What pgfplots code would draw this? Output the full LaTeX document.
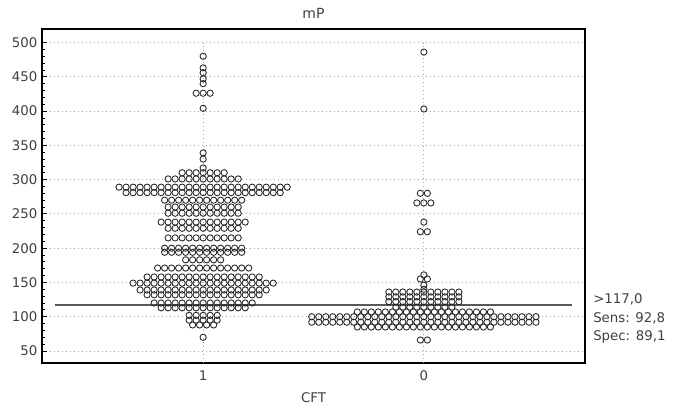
\documentclass[border=0pt]{standalone}
\usepackage{fontspec}
\setmainfont{DejaVu Sans}
\usepackage{pgfplots}
\pgfplotsset{compat=1.18}
\definecolor{txt}{HTML}{404040}
\pgfplotsset{dotmark/.style={only marks, mark=o, mark size=2.35pt, mark options={draw=black!85, line width=0.65pt, fill=none}}}
\begin{document}
\begin{tikzpicture}
\begin{axis}[
  scale only axis, width=407.25pt, height=250.5pt,
  xmin=-23, xmax=54.5, ymin=32.5, ymax=519.7,
  axis line style={line width=1.3pt, black},
  xtick={0,31.5}, xticklabels={1,0},
  x tick style={draw=none},
  ytick={50,100,...,500},
  minor y tick num=4,
  tick align=inside, ytick pos=left, xtick pos=bottom,
  y tick style={black, line width=0.6pt},
  major tick length=4pt, minor tick length=2pt,
  ymajorgrids,
  major grid style={gray!70, dash pattern=on 1pt off 2pt, line width=0.6pt},
  tick label style={font=\fontsize{10}{12}\selectfont, text=txt},
  xticklabel style={yshift=-2pt},
  /pgf/number format/assume math mode=true,
  title={mP}, title style={font=\fontsize{10.5}{12}\selectfont, text=txt, yshift=-1.5pt},
  xlabel={CFT}, xlabel style={font=\fontsize{10}{12}\selectfont, text=txt, yshift=-2pt},
  clip=false,
]
% vertical dotted guides
\addplot[gray!70, dash pattern=on 1pt off 2pt, line width=0.6pt] coordinates {(0,32.5) (0,500)};
\addplot[gray!70, dash pattern=on 1pt off 2pt, line width=0.6pt] coordinates {(31.5,32.5) (31.5,500)};
% cut-off line
\addplot[black!65, line width=1pt] coordinates {(-21.1,117) (52.6,117)};
% group 1
\addplot[dotmark] coordinates {
(0,480)
(0,463) (0,456) (0,447) (0,440)
(-1,426) (0,426) (1,426)
(0,404)
(0,339) (0,330) (0,317)
(-3,310) (-2,310) (-1,310) (0,310) (1,310) (2,310) (3,310)
(-5,301) (-4,301) (-3,301) (-2,301) (-1,301) (0,301) (1,301) (2,301) (3,301) (4,301) (5,301)
(-12,289) (-11,289) (-10,289) (-9,289) (-8,289) (-7,289) (-6,289) (-5,289) (-4,289) (-3,289) (-2,289) (-1,289) (0,289) (1,289) (2,289) (3,289) (4,289) (5,289) (6,289) (7,289) (8,289) (9,289) (10,289) (11,289) (12,289)
(-11,281) (-10,281) (-9,281) (-8,281) (-7,281) (-6,281) (-5,281) (-4,281) (-3,281) (-2,281) (-1,281) (0,281) (1,281) (2,281) (3,281) (4,281) (5,281) (6,281) (7,281) (8,281) (9,281) (10,281) (11,281)
(-5.5,270) (-4.5,270) (-3.5,270) (-2.5,270) (-1.5,270) (-0.5,270) (0.5,270) (1.5,270) (2.5,270) (3.5,270) (4.5,270) (5.5,270)
(-5,260) (-4,260) (-3,260) (-2,260) (-1,260) (0,260) (1,260) (2,260) (3,260) (4,260) (5,260)
(-5,251) (-4,251) (-3,251) (-2,251) (-1,251) (0,251) (1,251) (2,251) (3,251) (4,251) (5,251)
(-6,238) (-5,238) (-4,238) (-3,238) (-2,238) (-1,238) (0,238) (1,238) (2,238) (3,238) (4,238) (5,238) (6,238)
(-5,229) (-4,229) (-3,229) (-2,229) (-1,229) (0,229) (1,229) (2,229) (3,229) (4,229) (5,229)
(-5,215) (-4,215) (-3,215) (-2,215) (-1,215) (0,215) (1,215) (2,215) (3,215) (4,215) (5,215)
(-5.5,200) (-4.5,200) (-3.5,200) (-2.5,200) (-1.5,200) (-0.5,200) (0.5,200) (1.5,200) (2.5,200) (3.5,200) (4.5,200) (5.5,200)
(-5.5,194) (-4.5,194) (-3.5,194) (-2.5,194) (-1.5,194) (-0.5,194) (0.5,194) (1.5,194) (2.5,194) (3.5,194) (4.5,194) (5.5,194)
(-2.5,183) (-1.5,183) (-0.5,183) (0.5,183) (1.5,183) (2.5,183)
(-6.5,171) (-5.5,171) (-4.5,171) (-3.5,171) (-2.5,171) (-1.5,171) (-0.5,171) (0.5,171) (1.5,171) (2.5,171) (3.5,171) (4.5,171) (5.5,171) (6.5,171)
(-8,158) (-7,158) (-6,158) (-5,158) (-4,158) (-3,158) (-2,158) (-1,158) (0,158) (1,158) (2,158) (3,158) (4,158) (5,158) (6,158) (7,158) (8,158)
(-10,149) (-9,149) (-8,149) (-7,149) (-6,149) (-5,149) (-4,149) (-3,149) (-2,149) (-1,149) (0,149) (1,149) (2,149) (3,149) (4,149) (5,149) (6,149) (7,149) (8,149) (9,149) (10,149)
(-9,139) (-8,139) (-7,139) (-6,139) (-5,139) (-4,139) (-3,139) (-2,139) (-1,139) (0,139) (1,139) (2,139) (3,139) (4,139) (5,139) (6,139) (7,139) (8,139) (9,139)
(-8,132) (-7,132) (-6,132) (-5,132) (-4,132) (-3,132) (-2,132) (-1,132) (0,132) (1,132) (2,132) (3,132) (4,132) (5,132) (6,132) (7,132) (8,132)
(-7,120) (-6,120) (-5,120) (-4,120) (-3,120) (-2,120) (-1,120) (0,120) (1,120) (2,120) (3,120) (4,120) (5,120) (6,120) (7,120)
(-6,113) (-5,113) (-4,113) (-3,113) (-2,113) (-1,113) (0,113) (1,113) (2,113) (3,113) (4,113) (5,113) (6,113)
(-2,102) (-1,102) (0,102) (1,102) (2,102)
(-2,95) (-1,95) (0,95) (1,95) (2,95)
(-1.5,88) (-0.5,88) (0.5,88) (1.5,88)
(0,70)
};
% group 0
\addplot[dotmark] coordinates {
(31.5,486)
(31.5,403)
(31,280) (32,280)
(30.5,266) (31.5,266) (32.5,266)
(31.5,238)
(31,224) (32,224)
(31.5,161)
(31,155) (32,155)
(31.5,146) (31.5,140)
(26.5,136) (27.5,136) (28.5,136) (29.5,136) (30.5,136) (31.5,136) (32.5,136) (33.5,136) (34.5,136) (35.5,136) (36.5,136)
(26.5,129) (27.5,129) (28.5,129) (29.5,129) (30.5,129) (31.5,129) (32.5,129) (33.5,129) (34.5,129) (35.5,129) (36.5,129)
(26.5,122) (27.5,122) (28.5,122) (29.5,122) (30.5,122) (31.5,122) (32.5,122) (33.5,122) (34.5,122) (35.5,122) (36.5,122)
(27.5,114) (28.5,114) (29.5,114) (30.5,114) (31.5,114) (32.5,114) (33.5,114) (34.5,114) (35.5,114)
(22,107) (23,107) (24,107) (25,107) (26,107) (27,107) (28,107) (29,107) (30,107) (31,107) (32,107) (33,107) (34,107) (35,107) (36,107) (37,107) (38,107) (39,107) (40,107) (41,107)
(15.5,100) (16.5,100) (17.5,100) (18.5,100) (19.5,100) (20.5,100) (21.5,100) (22.5,100) (23.5,100) (24.5,100) (25.5,100) (26.5,100) (27.5,100) (28.5,100) (29.5,100) (30.5,100) (31.5,100) (32.5,100) (33.5,100) (34.5,100) (35.5,100) (36.5,100) (37.5,100) (38.5,100) (39.5,100) (40.5,100) (41.5,100) (42.5,100) (43.5,100) (44.5,100) (45.5,100) (46.5,100) (47.5,100)
(15.5,92) (16.5,92) (17.5,92) (18.5,92) (19.5,92) (20.5,92) (21.5,92) (22.5,92) (23.5,92) (24.5,92) (25.5,92) (26.5,92) (27.5,92) (28.5,92) (29.5,92) (30.5,92) (31.5,92) (32.5,92) (33.5,92) (34.5,92) (35.5,92) (36.5,92) (37.5,92) (38.5,92) (39.5,92) (40.5,92) (41.5,92) (42.5,92) (43.5,92) (44.5,92) (45.5,92) (46.5,92) (47.5,92)
(22,85) (23,85) (24,85) (25,85) (26,85) (27,85) (28,85) (29,85) (30,85) (31,85) (32,85) (33,85) (34,85) (35,85) (36,85) (37,85) (38,85) (39,85) (40,85) (41,85)
(31,66) (32,66)
};
\node[anchor=west, font=\fontsize{10}{12}\selectfont, text=txt, inner sep=0pt] at (axis cs:54.5,126) [xshift=6pt] {>117,0};
\node[anchor=west, font=\fontsize{10}{12}\selectfont, text=txt, inner sep=0pt] at (axis cs:54.5,98) [xshift=6pt] {Sens: 92,8};
\node[anchor=west, font=\fontsize{10}{12}\selectfont, text=txt, inner sep=0pt] at (axis cs:54.5,70.4) [xshift=6pt] {Spec: 89,1};
\end{axis}
\pgfresetboundingbox
\useasboundingbox (-31.5pt,-33pt) rectangle (473.25pt,272.25pt);
\end{tikzpicture}
\end{document}
